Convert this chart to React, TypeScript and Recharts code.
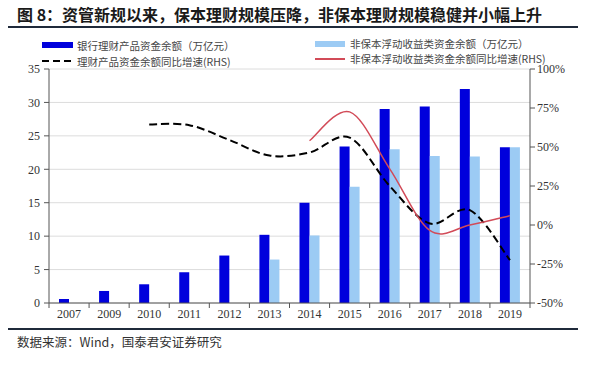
import React from 'react';
import { ComposedChart, Bar, Line, XAxis, YAxis, CartesianGrid } from 'recharts';

const years = ['2007', '2009', '2010', '2011', '2012', '2013', '2014', '2015', '2016', '2017', '2018', '2019'];
// 万亿元
const bankWmp = [0.6, 1.8, 2.8, 4.6, 7.1, 10.2, 15.0, 23.4, 29.0, 29.4, 32.0, 23.3];
const nonGuaranteed = [null, null, null, null, null, 6.5, 10.1, 17.4, 23.0, 22.0, 21.9, 23.3];
// RHS, %
const bankYoy = [null, null, 64.5, 64, 54.5, 44.5, 46.5, 56, 25, 1, 9.5, -22.5];
const nonGuarYoy = [null, null, null, null, null, null, 54, 72.5, 36, -3.5, 0, 6];

const leftTicks = [0, 5, 10, 15, 20, 25, 30, 35];
const rightTicks = [-50, -25, 0, 25, 50, 75, 100];

const data = years.map((y, i) => ({
  year: y,
  bank: bankWmp[i],
  nonGuar: nonGuaranteed[i],
  bankYoy: bankYoy[i],
  nonGuarYoy: nonGuarYoy[i],
}));

const W = 600;
const H = 370;
const M = { top: 69, right: 0, bottom: 47, left: 19 };
const LEFT_W = 30;
const RIGHT_W = 70;
const X_H = 20;
const PLOT_L = M.left + LEFT_W;
const PLOT_R = W - M.right - RIGHT_W;
const PLOT_B = H - M.bottom - X_H;

const DARK = '#0000dc';
const LIGHT = '#9ccbf4';
const RED = '#d24b58';
const AXIS = '#555';
const SERIF = '"Liberation Serif", "Times New Roman", serif';
const CJK = '"Noto Sans CJK SC", "Noto Sans", sans-serif';

// excel-like smoothed line (catmull-rom)
function smooth(context: any) {
  let pts: number[][] = [];
  return {
    areaStart() {},
    areaEnd() {},
    lineStart() {
      pts = [];
    },
    lineEnd() {
      if (!pts.length) return;
      context.moveTo(pts[0][0], pts[0][1]);
      for (let i = 0; i < pts.length - 1; i++) {
        const p0 = pts[i - 1] || pts[i];
        const p1 = pts[i];
        const p2 = pts[i + 1];
        const p3 = pts[i + 2] || p2;
        context.bezierCurveTo(
          p1[0] + (p2[0] - p0[0]) / 6,
          p1[1] + (p2[1] - p0[1]) / 6,
          p2[0] - (p3[0] - p1[0]) / 6,
          p2[1] - (p3[1] - p1[1]) / 6,
          p2[0],
          p2[1]
        );
      }
    },
    point(x: number, y: number) {
      pts.push([+x, +y]);
    },
  };
}

const XTick = (props: any) => {
  const { x, y, payload } = props;
  const bw = (PLOT_R - PLOT_L) / years.length;
  const last = payload.value === years[years.length - 1];
  return (
    <g>
      <line x1={x - bw / 2} x2={x - bw / 2} y1={PLOT_B} y2={PLOT_B + 5} stroke={AXIS} />
      {last && <line x1={x + bw / 2} x2={x + bw / 2} y1={PLOT_B} y2={PLOT_B + 5} stroke={AXIS} />}
      <text x={x} y={y} dy="0.71em" textAnchor="middle" fontSize={12} fontFamily={SERIF} fill="#333">
        {payload.value}
      </text>
    </g>
  );
};

const legendText: React.CSSProperties = {
  position: 'absolute',
  fontFamily: CJK,
  fontSize: 10.5,
  color: '#444',
  lineHeight: '11px',
  whiteSpace: 'nowrap',
};

export default function App() {
  return (
    <div style={{ position: 'absolute', left: 0, top: 0, width: W, height: H, background: '#fff', overflow: 'hidden' }}>
      <div
        style={{
          position: 'absolute',
          left: 17,
          top: 4,
          fontFamily: CJK,
          fontWeight: 700,
          fontSize: 16,
          lineHeight: '20px',
          color: '#1a1a1a',
          whiteSpace: 'nowrap',
        }}
      >
        图 8：资管新规以来，保本理财规模压降，非保本理财规模稳健并小幅上升
      </div>
      <div style={{ position: 'absolute', left: 8, top: 26, width: 570, height: 2, background: '#1f2a3a' }} />

      {/* legend */}
      <div style={{ position: 'absolute', left: 42, top: 42, width: 31, height: 6, background: DARK }} />
      <div style={{ ...legendText, left: 77, top: 39.5 }}>银行理财产品资金余额（万亿元）</div>
      <svg style={{ position: 'absolute', left: 42, top: 58 }} width={31} height={6}>
        <line x1={0} x2={31} y1={3} y2={3} stroke="#000" strokeWidth={2} strokeDasharray="7 4" />
      </svg>
      <div style={{ ...legendText, left: 77, top: 55.5 }}>理财产品资金余额同比增速(RHS)</div>
      <div style={{ position: 'absolute', left: 315, top: 41, width: 30, height: 6, background: LIGHT }} />
      <div style={{ ...legendText, left: 350, top: 38 }}>非保本浮动收益类资金余额（万亿元）</div>
      <div style={{ position: 'absolute', left: 315, top: 58, width: 30, height: 1.5, background: RED }} />
      <div style={{ ...legendText, left: 350, top: 52.5 }}>非保本浮动收益类资金余额同比增速(RHS)</div>

      <div style={{ position: 'absolute', left: 0, top: 0 }}>
        <ComposedChart width={W} height={H} data={data} margin={M} barGap={0} barSize={10}>
          <CartesianGrid yAxisId="left" vertical={false} stroke="#dcdcdc" />
          <XAxis
            dataKey="year"
            height={X_H}
            tickLine={false}
            tickSize={5}
            tickMargin={1}
            stroke={AXIS}
            tick={<XTick />}
            interval={0}
          />
          <YAxis
            yAxisId="left"
            width={LEFT_W}
            domain={[0, 35]}
            ticks={leftTicks}
            interval={0}
            stroke={AXIS}
            tickSize={5}
            tickMargin={4}
            tick={{ fontSize: 12, fontFamily: SERIF, fill: '#333' }}
          />
          <YAxis
            yAxisId="right"
            orientation="right"
            width={RIGHT_W}
            domain={[-50, 100]}
            ticks={rightTicks}
            interval={0}
            stroke={AXIS}
            tickSize={5}
            tickMargin={2}
            tickFormatter={(v) => `${v}%`}
            tick={{ fontSize: 12, fontFamily: SERIF, fill: '#333', textAnchor: 'start' }}
          />
          <Bar yAxisId="left" dataKey="bank" fill={DARK} isAnimationActive={false} />
          <Bar yAxisId="left" dataKey="nonGuar" fill={LIGHT} isAnimationActive={false} />
          <Line
            yAxisId="right"
            dataKey="bankYoy"
            type={smooth as any}
            stroke="#000"
            strokeWidth={2}
            strokeDasharray="8 4"
            dot={false}
            isAnimationActive={false}
          />
          <Line
            yAxisId="right"
            dataKey="nonGuarYoy"
            type={smooth as any}
            stroke={RED}
            strokeWidth={1.5}
            dot={false}
            isAnimationActive={false}
          />
        </ComposedChart>
      </div>

      <div style={{ position: 'absolute', left: 8, top: 328, width: 570, height: 2, background: '#1f2a3a' }} />
      <div
        style={{
          position: 'absolute',
          left: 17,
          top: 334,
          fontFamily: CJK,
          fontSize: 12.5,
          lineHeight: '16px',
          color: '#333',
          whiteSpace: 'nowrap',
        }}
      >
        数据来源：Wind，国泰君安证券研究
      </div>
    </div>
  );
}
